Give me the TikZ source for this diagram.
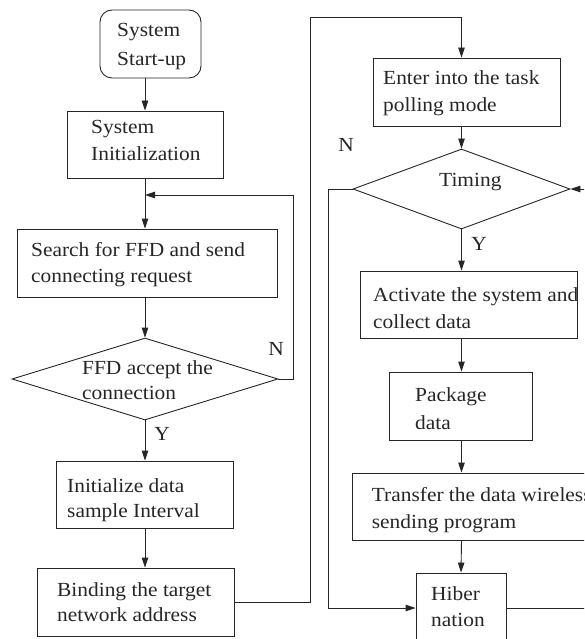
\documentclass[tikz,border=0pt]{standalone}
\usepackage{fontspec}
\setmainfont{Liberation Serif}[FakeStretch=1.07]
\usetikzlibrary{arrows.meta,shapes.geometric}

\begin{document}
\begin{tikzpicture}[x=1pt,y=-1pt,
  box/.style={draw=black!85, line width=0.9pt, rectangle, inner sep=0pt},
  decision/.style={draw=black!85, line width=0.9pt, diamond, inner sep=0pt},
  % multi-line texts are placed by the baseline of their last line
  txt/.style={text=black!85, font=\fontsize{20}{26.5}\selectfont, align=left, inner sep=0pt, anchor=base west},
  lbl/.style={text=black!85, font=\fontsize{20}{24}\selectfont, inner sep=0pt},
  arr/.style={draw=black!85, line width=0.9pt, -{Triangle[length=10pt,width=6.5pt]}},
]
\useasboundingbox (0,0) rectangle (584,639);
\clip (0,0) rectangle (584,639);

% ---------- left column ----------
\node[box, rounded corners=12pt, minimum width=101, minimum height=68] (start) at (150.5,44) {};
\node[txt, font=\fontsize{20}{28.5}\selectfont] (starttext) at (117,65.5) {System\\Start-up};

\node[box, minimum width=156, minimum height=67] (init) at (145,144.5) {};
\node[txt] (inittext) at (91,160.5) {System\\Initialization};

\node[box, minimum width=260, minimum height=68] (search) at (147,263) {};
\node[txt] (searchtext) at (31,282.5) {Search for FFD and send\\connecting request};

\node[decision, minimum width=266, minimum height=82] (ffd) at (145,379) {};
\node[txt, font=\fontsize{20}{25.5}\selectfont] (ffdtext) at (82,399.5) {FFD accept the\\connection};

\node[box, minimum width=177, minimum height=67] (initialize) at (144.5,494.5) {};
\node[txt, font=\fontsize{20}{25}\selectfont] (initializetext) at (67,517) {Initialize data\\sample Interval};

\node[box, minimum width=197, minimum height=68] (binding) at (135.5,602) {};
\node[txt, font=\fontsize{20}{25.7}\selectfont] (bindingtext) at (57,621.7) {Binding the target\\network address};

% ---------- right column ----------
\node[box, minimum width=187, minimum height=68] (enter) at (466.5,92) {};
\node[txt] (entertext) at (383,111.5) {Enter into the task\\polling mode};

\node[decision, minimum width=217, minimum height=80] (timing) at (461.5,189) {};
\node[txt] (timingtext) at (439,186.5) {Timing};

\node[box, minimum width=217, minimum height=67] (activate) at (468.5,304.5) {};
\node[txt] (activatetext) at (373,328.2) {Activate the system and\\collect data};

\node[box, minimum width=143, minimum height=68] (package) at (460.5,406) {};
\node[txt, font=\fontsize{20}{28}\selectfont] (packagetext) at (415,429.7) {Package\\data};

\node[box, minimum width=258, minimum height=67] (transfer) at (481,506.5) {};
\node[txt] (transfertext) at (371.7,528.2) {Transfer the data wireless\\sending program};

\node[box, minimum width=90, minimum height=70] (hiber) at (461,608) {};
\node[txt] (hibertext) at (431,626.5) {Hiber\\nation};

% ---------- bend points ----------
\coordinate (loopin) at (145,195);
\coordinate (upturn) at (310,17);
\coordinate (nturn) at (328,608);
\coordinate (backturn) at (600,608);

% ---------- connectors, left column ----------
\draw[arr] (init.north |- start.south) -- (init.north);
\draw[arr] (init.south) -- (init.south |- search.north);
\draw[arr] (ffd.north |- search.south) -- (ffd.north);
\draw[arr] (ffd.east) -- ++(15,0) |- (loopin);
\draw[arr] (ffd.south) -- (ffd.south |- initialize.north);
\draw[arr] (ffd.south |- initialize.south) -- (ffd.south |- binding.north);
\draw[arr] (binding.east) -| (upturn) -| (timing.north |- enter.north);

% ---------- connectors, right column ----------
\draw[arr] (timing.north |- enter.south) -- (timing.north);
\draw[arr] (timing.south) -- (timing.south |- activate.north);
\draw[arr] (timing.south |- activate.south) -- (timing.south |- package.north);
\draw[arr] (timing.south |- package.south) -- (timing.south |- transfer.north);
\draw[arr] (timing.south |- transfer.south) -- (hiber.north);
\draw[arr] (timing.west) -| (nturn) -- (hiber.west);
\draw[arr] (hiber.east) -| (backturn) |- (timing.east);

% ---------- branch labels ----------
\node[lbl] (ffdno) at (276,349) {N};
\node[lbl] (ffdyes) at (162,434) {Y};
\node[lbl] (timeno) at (346,145) {N};
\node[lbl] (timeyes) at (479,244) {Y};
\end{tikzpicture}
\end{document}
